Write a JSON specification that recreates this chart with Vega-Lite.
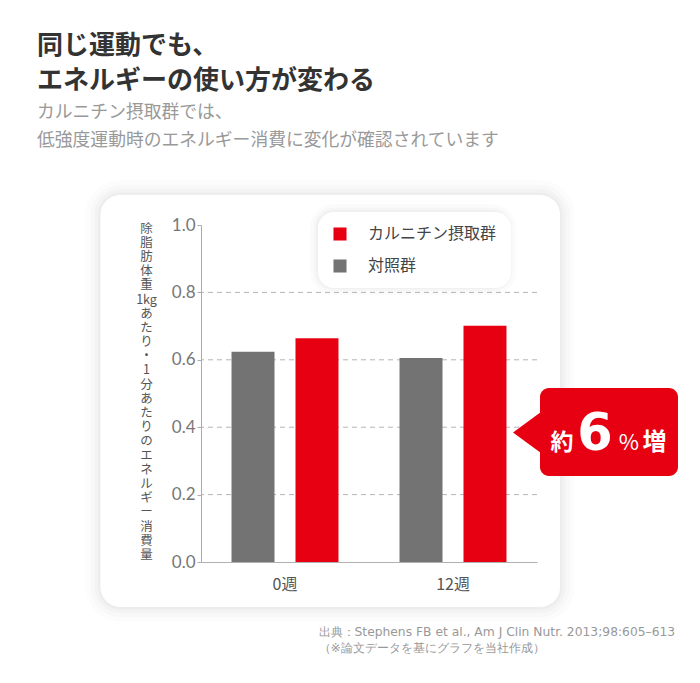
{
  "$schema": "https://vega.github.io/schema/vega-lite/v6.json",
  "width": 336,
  "height": 337,
  "autosize": {"type": "none"},
  "padding": {"left": 201, "top": 225, "right": 163, "bottom": 121},
  "background": "#ffffff",
  "title": {
    "text": ["同じ運動でも、", "エネルギーの使い方が変わる"],
    "subtitle": ["カルニチン摂取群では、", "低強度運動時のエネルギー消費に変化が確認されています"],
    "anchor": "start",
    "frame": "group",
    "dx": -164,
    "offset": 30,
    "font": "Noto Sans CJK JP",
    "fontSize": 26,
    "fontWeight": "bold",
    "color": "#333333",
    "lineHeight": 35,
    "subtitleFont": "Noto Sans CJK JP",
    "subtitleFontSize": 17.8,
    "subtitleColor": "#999999",
    "subtitleLineHeight": 28,
    "subtitlePadding": 10
  },
  "datasets": {
    "bars": [
      {"week": "0週", "group": "対照群", "value": 0.624},
      {"week": "0週", "group": "カルニチン摂取群", "value": 0.664},
      {"week": "12週", "group": "対照群", "value": 0.605},
      {"week": "12週", "group": "カルニチン摂取群", "value": 0.701}
    ],
    "grid": [{"v": 0.2}, {"v": 0.4}, {"v": 0.6}, {"v": 0.8}]
  },
  "resolve": {"scale": {"x": "independent"}},
  "layer": [
    {
      "data": {"values": [{}]},
      "encoding": {
        "x": {"datum": -0.2991, "type": "quantitative", "scale": {"domain": [0, 1], "nice": false, "zero": false}, "axis": null},
        "x2": {"datum": 1.0685},
        "y": {"datum": 1.089, "type": "quantitative", "scale": {"domain": [0, 1], "nice": false, "zero": false}},
        "y2": {"datum": -0.1335}
      },
      "layer": [
        {"mark": {"type": "rect", "fill": "transparent", "stroke": "#000000", "strokeWidth": 30, "strokeOpacity": 0.012, "cornerRadius": 20}},
        {"mark": {"type": "rect", "fill": "transparent", "stroke": "#000000", "strokeWidth": 20, "strokeOpacity": 0.015, "cornerRadius": 20}},
        {"mark": {"type": "rect", "fill": "transparent", "stroke": "#000000", "strokeWidth": 12, "strokeOpacity": 0.02, "cornerRadius": 20}},
        {"mark": {"type": "rect", "fill": "transparent", "stroke": "#000000", "strokeWidth": 5, "strokeOpacity": 0.025, "cornerRadius": 20}},
        {"mark": {"type": "rect", "fill": "#ffffff", "cornerRadius": 20}}
      ]
    },
    {
      "data": {"values": [{}]},
      "encoding": {
        "x": {"datum": 0.3482, "type": "quantitative", "scale": {"domain": [0, 1], "nice": false, "zero": false}, "axis": null},
        "x2": {"datum": 0.9137},
        "y": {"datum": 1.0386, "type": "quantitative", "scale": {"domain": [0, 1], "nice": false, "zero": false}},
        "y2": {"datum": 0.816}
      },
      "layer": [
        {"mark": {"type": "rect", "fill": "transparent", "stroke": "#000000", "strokeWidth": 16, "strokeOpacity": 0.015, "cornerRadius": 16}},
        {"mark": {"type": "rect", "fill": "transparent", "stroke": "#000000", "strokeWidth": 9, "strokeOpacity": 0.02, "cornerRadius": 16}},
        {"mark": {"type": "rect", "fill": "transparent", "stroke": "#000000", "strokeWidth": 4, "strokeOpacity": 0.025, "cornerRadius": 16}}
      ]
    },
    {
      "data": {"name": "grid"},
      "mark": {"type": "rule", "color": "#b5b5b5", "strokeDash": [5, 4], "strokeWidth": 1},
      "encoding": {
        "y": {"field": "v", "type": "quantitative", "scale": {"domain": [0, 1], "nice": false, "zero": false}}
      }
    },
    {
      "data": {"name": "bars"},
      "mark": {"type": "bar"},
      "encoding": {
        "x": {
          "field": "week",
          "type": "nominal",
          "sort": ["0週", "12週"],
          "scale": {"paddingInner": 0, "paddingOuter": 0},
          "axis": {
            "title": ["出典：Stephens FB et al., Am J Clin Nutr. 2013;98:605–613", "（※論文データを基にグラフを当社作成）"],
            "titleX": 117,
            "titleY": 63,
            "titleAlign": "left",
            "titleBaseline": "top",
            "titleFont": "DejaVu Sans",
            "titleFontSize": 12.3,
            "titleFontWeight": "normal",
            "titleColor": "#999999",
            "titleLineHeight": 16,
            "labelAngle": 0,
            "labelFont": "Noto Sans CJK JP",
            "labelFontSize": 16,
            "labelColor": "#555555",
            "labelPadding": 14,
            "ticks": false,
            "domainColor": "#b0b0b0",
            "grid": false,
            "zindex": 1
          }
        },
        "xOffset": {
          "field": "group",
          "type": "nominal",
          "sort": ["対照群", "カルニチン摂取群"],
          "scale": {"paddingInner": 0.328, "paddingOuter": 0.477}
        },
        "y": {
          "field": "value",
          "type": "quantitative",
          "scale": {"domain": [0, 1], "nice": false, "zero": false},
          "axis": {
            "title": ["除", "脂", "肪", "体", "重", "1kg", "あ", "た", "り", "・", "1", "分", "あ", "た", "り", "の", "エ", "ネ", "ル", "ギ", "ー", "消", "費", "量"],
            "titleAngle": 0,
            "titleX": -55,
            "titleY": -3,
            "titleAlign": "center",
            "titleBaseline": "top",
            "titleFont": "Noto Sans CJK JP",
            "titleFontSize": 12.5,
            "titleFontWeight": "normal",
            "titleColor": "#555555",
            "titleLineHeight": 14.2,
            "values": [0, 0.2, 0.4, 0.6, 0.8, 1.0],
            "format": ".1f",
            "labelFont": "Lato",
            "labelFontSize": 17,
            "labelColor": "#777777",
            "labelPadding": 2,
            "tickSize": 4,
            "tickColor": "#aaaaaa",
            "domainColor": "#aaaaaa",
            "grid": false,
            "zindex": 1
          }
        },
        "color": {
          "field": "group",
          "type": "nominal",
          "scale": {"domain": ["カルニチン摂取群", "対照群"], "range": ["#e60012", "#737373"]},
          "legend": {
            "orient": "none",
            "legendX": 117,
            "legendY": -13,
            "title": null,
            "fillColor": "#ffffff",
            "cornerRadius": 16,
            "padding": 14,
            "symbolType": "square",
            "symbolSize": 170,
            "symbolStrokeWidth": 0,
            "symbolOpacity": 1,
            "labelFont": "Noto Sans CJK JP",
            "labelFontSize": 16,
            "labelColor": "#444444",
            "labelOffset": 20,
            "rowPadding": 16
          }
        }
      }
    },
    {
      "data": {"values": [{}]},
      "layer": [
        {
          "mark": {"type": "point", "shape": "M 1 -1.46 L -1 0 L 1 1.46 Z", "filled": true, "color": "#e60012", "size": 784, "opacity": 1, "strokeWidth": 0},
          "encoding": {
            "x": {"datum": 0.9702, "type": "quantitative", "scale": {"domain": [0, 1], "nice": false, "zero": false}, "axis": null},
            "y": {"datum": 0.3843, "type": "quantitative", "scale": {"domain": [0, 1], "nice": false, "zero": false}}
          }
        },
        {
          "mark": {"type": "rect", "fill": "#e60012", "cornerRadius": 9},
          "encoding": {
            "x": {"datum": 1.0089, "type": "quantitative", "scale": {"domain": [0, 1], "nice": false, "zero": false}, "axis": null},
            "x2": {"datum": 1.4196},
            "y": {"datum": 0.5163, "type": "quantitative", "scale": {"domain": [0, 1], "nice": false, "zero": false}},
            "y2": {"datum": 0.2552}
          }
        },
        {
          "mark": {"type": "text", "text": "約", "font": "Noto Sans CJK JP", "fontSize": 23, "fontWeight": "bold", "color": "#ffffff", "align": "center", "baseline": "alphabetic"},
          "encoding": {
            "x": {"datum": 1.0744, "type": "quantitative", "scale": {"domain": [0, 1], "nice": false, "zero": false}, "axis": null},
            "y": {"datum": 0.3323, "type": "quantitative", "scale": {"domain": [0, 1], "nice": false, "zero": false}}
          }
        },
        {
          "mark": {"type": "text", "text": "6", "font": "DejaVu Sans", "fontSize": 51, "fontWeight": "bold", "color": "#ffffff", "align": "center", "baseline": "alphabetic"},
          "encoding": {
            "x": {"datum": 1.1726, "type": "quantitative", "scale": {"domain": [0, 1], "nice": false, "zero": false}, "axis": null},
            "y": {"datum": 0.3323, "type": "quantitative", "scale": {"domain": [0, 1], "nice": false, "zero": false}}
          }
        },
        {
          "mark": {"type": "text", "text": "%", "font": "Noto Sans CJK JP", "fontSize": 22, "fontWeight": "normal", "color": "#ffffff", "align": "center", "baseline": "alphabetic"},
          "encoding": {
            "x": {"datum": 1.2738, "type": "quantitative", "scale": {"domain": [0, 1], "nice": false, "zero": false}, "axis": null},
            "y": {"datum": 0.3323, "type": "quantitative", "scale": {"domain": [0, 1], "nice": false, "zero": false}}
          }
        },
        {
          "mark": {"type": "text", "text": "増", "font": "Noto Sans CJK JP", "fontSize": 24, "fontWeight": "bold", "color": "#ffffff", "align": "center", "baseline": "alphabetic"},
          "encoding": {
            "x": {"datum": 1.3497, "type": "quantitative", "scale": {"domain": [0, 1], "nice": false, "zero": false}, "axis": null},
            "y": {"datum": 0.3323, "type": "quantitative", "scale": {"domain": [0, 1], "nice": false, "zero": false}}
          }
        }
      ]
    }
  ],
  "config": {
    "view": {"stroke": null},
    "font": "Noto Sans CJK JP"
  }
}
